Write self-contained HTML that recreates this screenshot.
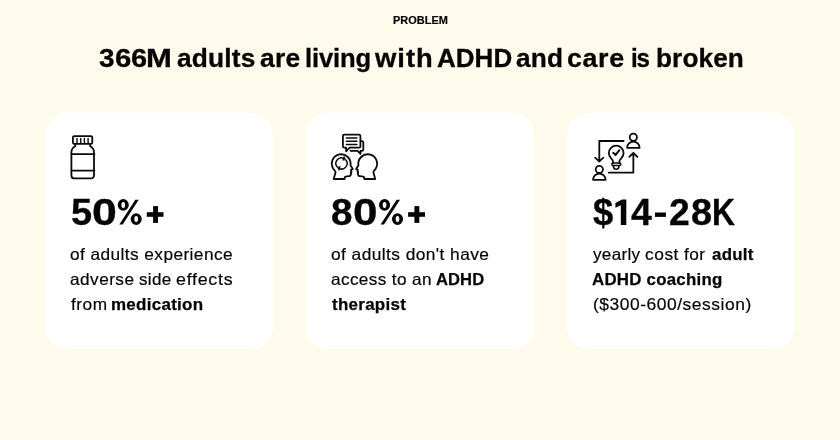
<!DOCTYPE html>
<html><head><meta charset="utf-8">
<style>
*{margin:0;padding:0;box-sizing:border-box}
html,body{width:840px;height:440px;overflow:hidden}
body{background:#fffbec;font-family:"Liberation Sans",sans-serif;color:#050505;position:relative}
.card{position:absolute;top:113px;width:228px;height:236px;background:#fff;border-radius:22px}
.c1{left:45px}.c2{left:306px}.c3{left:567px}
#t{will-change:transform}
#t span{position:absolute;white-space:pre;line-height:1;transform-origin:0 0}
</style></head><body>
<div class="card c1"></div><div class="card c2"></div><div class="card c3"></div>
<div id="t">
<span style="left:392.85px;top:15.07px;font-size:10.9px;letter-spacing:0.033px;transform:scaleX(1.0038);font-weight:bold;-webkit-text-stroke:0.2px #050505;">PROBLEM</span>
<span style="left:98.99px;top:44.69px;font-size:26px;transform:scaleX(1.0745);font-weight:bold;-webkit-text-stroke:0.3px #050505;">3</span>
<span style="left:114.77px;top:44.69px;font-size:26px;transform:scaleX(1.1280);font-weight:bold;-webkit-text-stroke:0.3px #050505;">6</span>
<span style="left:131.39px;top:44.69px;font-size:26px;transform:scaleX(1.1120);font-weight:bold;-webkit-text-stroke:0.3px #050505;">6</span>
<span style="left:145.81px;top:44.69px;font-size:26px;transform:scaleX(1.1945);font-weight:bold;-webkit-text-stroke:0.3px #050505;">M</span>
<span style="left:176.74px;top:44.69px;font-size:26px;letter-spacing:0.185px;transform:scaleX(1.0122);font-weight:bold;-webkit-text-stroke:0.3px #050505;">adults</span>
<span style="left:260.04px;top:44.69px;font-size:26px;letter-spacing:0.312px;transform:scaleX(1.0165);font-weight:bold;-webkit-text-stroke:0.3px #050505;">are</span>
<span style="left:305.47px;top:44.69px;font-size:26px;letter-spacing:-0.170px;transform:scaleX(0.9866);font-weight:bold;-webkit-text-stroke:0.3px #050505;">living</span>
<span style="left:374.80px;top:44.69px;font-size:26px;letter-spacing:0.950px;transform:scaleX(1.0534);font-weight:bold;-webkit-text-stroke:0.3px #050505;">with</span>
<span style="left:436.95px;top:44.69px;font-size:26px;letter-spacing:0.042px;font-weight:bold;-webkit-text-stroke:0.3px #050505;">ADHD</span>
<span style="left:516.24px;top:44.69px;font-size:26px;letter-spacing:0.188px;transform:scaleX(1.0085);font-weight:bold;-webkit-text-stroke:0.3px #050505;">and</span>
<span style="left:567.47px;top:44.69px;font-size:26px;letter-spacing:0.583px;transform:scaleX(1.0329);font-weight:bold;-webkit-text-stroke:0.3px #050505;">care</span>
<span style="left:630.57px;top:44.69px;font-size:26px;letter-spacing:-1.250px;transform:scaleX(0.9296);font-weight:bold;-webkit-text-stroke:0.3px #050505;">is</span>
<span style="left:655.94px;top:44.69px;font-size:26px;letter-spacing:0.115px;transform:scaleX(1.0069);font-weight:bold;-webkit-text-stroke:0.3px #050505;">broken</span>
<span style="left:71.18px;top:194.52px;font-size:36px;transform:scaleX(1.0535);font-weight:bold;-webkit-text-stroke:0.3px #050505;">5</span>
<span style="left:91.74px;top:194.52px;font-size:36px;transform:scaleX(1.2412);font-weight:bold;-webkit-text-stroke:0.3px #050505;">0</span>
<span style="left:331.46px;top:194.52px;font-size:36px;transform:scaleX(1.0704);font-weight:bold;-webkit-text-stroke:0.3px #050505;">8</span>
<span style="left:352.96px;top:194.52px;font-size:36px;transform:scaleX(1.2235);font-weight:bold;-webkit-text-stroke:0.3px #050505;">0</span>
<span style="left:593.09px;top:194.52px;font-size:36px;transform:scaleX(1.0105);font-weight:bold;-webkit-text-stroke:0.3px #050505;">&#36;</span>
<span style="left:630.78px;top:194.52px;font-size:36px;transform:scaleX(1.0390);font-weight:bold;-webkit-text-stroke:0.3px #050505;">4</span>
<span style="left:668.60px;top:194.52px;font-size:36px;transform:scaleX(1.0377);font-weight:bold;-webkit-text-stroke:0.3px #050505;">2</span>
<span style="left:690.58px;top:194.52px;font-size:36px;transform:scaleX(1.0535);font-weight:bold;-webkit-text-stroke:0.3px #050505;">8</span>
<span style="left:711.89px;top:194.52px;font-size:36px;transform:scaleX(0.8826);font-weight:bold;-webkit-text-stroke:0.3px #050505;">K</span>
<span style="left:70.11px;top:245.73px;font-size:16.5px;letter-spacing:0.391px;transform:scaleX(1.0483);-webkit-text-stroke:0.18px #050505;">of adults experience</span>
<span style="left:70.12px;top:270.83px;font-size:16.5px;letter-spacing:0.438px;transform:scaleX(1.0438);-webkit-text-stroke:0.18px #050505;">adverse</span>
<span style="left:139.48px;top:270.83px;font-size:16.5px;letter-spacing:0.333px;transform:scaleX(1.0333);-webkit-text-stroke:0.18px #050505;">side</span>
<span style="left:176.19px;top:270.83px;font-size:16.5px;letter-spacing:0.683px;transform:scaleX(1.0802);-webkit-text-stroke:0.18px #050505;">effects</span>
<span style="left:71.24px;top:296.03px;font-size:16.5px;letter-spacing:0.492px;transform:scaleX(1.0444);-webkit-text-stroke:0.18px #050505;">from</span>
<span style="left:111.47px;top:296.03px;font-size:16.5px;letter-spacing:0.272px;transform:scaleX(1.0280);font-weight:bold;-webkit-text-stroke:0.25px #050505;">medication</span>
<span style="left:331.01px;top:245.73px;font-size:16.5px;letter-spacing:0.403px;transform:scaleX(1.0515);-webkit-text-stroke:0.18px #050505;">of adults don't have</span>
<span style="left:331.02px;top:270.83px;font-size:16.5px;letter-spacing:0.357px;transform:scaleX(1.0415);-webkit-text-stroke:0.18px #050505;">access to an</span>
<span style="left:436.30px;top:270.83px;font-size:16.5px;letter-spacing:0.083px;transform:scaleX(1.0053);font-weight:bold;-webkit-text-stroke:0.25px #050505;">ADHD</span>
<span style="left:331.64px;top:296.03px;font-size:16.5px;letter-spacing:0.259px;transform:scaleX(1.0291);font-weight:bold;-webkit-text-stroke:0.25px #050505;">therapist</span>
<span style="left:592.90px;top:245.73px;font-size:16.5px;letter-spacing:0.310px;transform:scaleX(1.0340);-webkit-text-stroke:0.18px #050505;">yearly</span>
<span style="left:644.51px;top:245.73px;font-size:16.5px;letter-spacing:0.517px;transform:scaleX(1.0499);-webkit-text-stroke:0.18px #050505;">cost</span>
<span style="left:684.44px;top:245.73px;font-size:16.5px;letter-spacing:0.438px;transform:scaleX(1.0446);-webkit-text-stroke:0.18px #050505;">for</span>
<span style="left:711.69px;top:245.73px;font-size:16.5px;letter-spacing:0.231px;transform:scaleX(1.0233);font-weight:bold;-webkit-text-stroke:0.25px #050505;">adult</span>
<span style="left:592.39px;top:270.83px;font-size:16.5px;letter-spacing:0.229px;transform:scaleX(1.0219);font-weight:bold;-webkit-text-stroke:0.25px #050505;">ADHD coaching</span>
<span style="left:592.94px;top:296.03px;font-size:16.5px;letter-spacing:0.496px;transform:scaleX(1.0571);-webkit-text-stroke:0.18px #050505;">(&#36;300-600/session)</span>
</div>
<svg id="icons" style="position:absolute;left:0;top:0" width="840" height="440" viewBox="0 0 840 440" fill="none" stroke="#0a0a0a" stroke-width="1.8" stroke-linejoin="round" stroke-linecap="round">
<g>
<rect x="72.9" y="136.1" width="19.4" height="7.7" rx="1.4"/>
<path d="M77 138.4v4.4M80.7 138.4v4.4M84.4 138.4v4.4M88.1 138.4v4.4" stroke-width="1.4"/>
<path d="M75.2 143.7v2.6c-2.7 1.5-3.8 3.3-3.8 6.2v22.9a3 3 0 0 0 3 3h16.6a3 3 0 0 0 3-3v-22.9c0-2.9-1.1-4.7-3.8-6.2v-2.6"/>
<path d="M71.4 154.1h23.2M71.4 170.6h23.2" stroke-width="1.6"/>
</g>
<g>
<path d="M360.4 141.6v-5.5a1.4 1.4 0 0 0-1.4-1.4h-14.7a1.4 1.4 0 0 0-1.4 1.4v10.2a1.4 1.4 0 0 0 1.4 1.4h1.8v3.6l3.6-3.6h9.3a1.4 1.4 0 0 0 1.4-1.4z"/>
<path d="M346.4 138.1h10.5M346.4 141.3h10.5M346.4 144.5h10.5" stroke-width="1.5"/>
<path d="M360.6 141.1h1.3a1.4 1.4 0 0 1 1.4 1.4v6.9a1.4 1.4 0 0 1-1.4 1.4h-1.4v3l-3-3h-7"/>
<path d="M333.23 168.68A9.4 9.4 0 1 1 350.46 165.33L352.8 168.9L351 169.9L351.5 171.3L350.7 172.2L351.2 173.4L350.5 175.4Q350.2 176.2 349.2 176.2L346.6 176.4Q344.7 176.5 344.6 178.2L344.6 179H333.7L335.5 172.6Q335.6 171.6 334.9 170.9Z"/>
<path transform="translate(708.9 0) scale(-1 1)" d="M333.23 168.68A9.4 9.4 0 1 1 350.46 165.33L352.8 168.9L351 169.9L351.5 171.3L350.7 172.2L351.2 173.4L350.5 175.4Q350.2 176.2 349.2 176.2L346.6 176.4Q344.7 176.5 344.6 178.2L344.6 179H333.7L335.5 172.6Q335.6 171.6 334.9 170.9Z"/>
<path d="M337.09 166.85A5.6 5.6 0 0 1 343.78 158.28M345.91 159.95A5.6 5.6 0 0 1 339.22 168.52" stroke-width="1.5"/>
<path d="M345.53 159.51L344.1 156.26L342.73 160.02Z" fill="#0a0a0a" stroke-width="0.6"/>
<path d="M337.47 167.29L338.9 170.54L340.27 166.78Z" fill="#0a0a0a" stroke-width="0.6"/>
</g>
<g>
<circle cx="633.35" cy="137.3" r="3.6"/><path d="M627.1 147.8h12.5a6.25 6.25 0 0 0-12.5 0z"/>
<circle cx="599.3" cy="169.4" r="3.6"/><path d="M593.05 179.8h12.5a6.25 6.25 0 0 0-12.5 0z"/>
<path d="M623.6 141h-24.3v20.2M595.2 157.7l4.1 3.8 4.1-3.8"/>
<path d="M608.8 172.7h24.55v-19M629.3 156.8l4.05-3.8 4.05 3.8"/>
<path d="M613.1 163v-1.4c-.3-1.3-1.1-2.3-2.15-3.4a7.35 7.35 0 1 1 10.5 0c-1.05 1.1-1.85 2.1-2.15 3.4v1.4"/>
<rect x="611.8" y="163.0" width="9" height="2.4" rx="1.2" stroke-width="1.5"/>
<path d="M613.4 165.7c0 2.1 1.1 3.5 2.8 3.5s2.8-1.4 2.8-3.5" stroke-width="1.6"/>
<path d="M613.2 152.8l2.5 2.1 3.6-4.7" stroke-width="1.9"/>
</g>
<g fill="#050505" stroke="none">
<rect x="146.8" y="212.2" width="16.7" height="4.6"/><rect x="153.1" y="206.1" width="4.9" height="16.8"/>
<rect x="408.1" y="212.2" width="16.9" height="4.6"/><rect x="414.4" y="206.1" width="4.9" height="16.8"/>
<path fill-rule="evenodd" d="M117.70 204.95a5.55 5.85 0 1 0 11.1 0a5.55 5.85 0 1 0 -11.1 0zM121.40 204.95a1.85 3.05 0 1 1 3.7 0a1.85 3.05 0 1 1 -3.7 0zM130.65 219.05a5.55 5.85 0 1 0 11.1 0a5.55 5.85 0 1 0 -11.1 0zM134.35 219.05a1.85 3.05 0 1 1 3.7 0a1.85 3.05 0 1 1 -3.7 0zM135.30 199.7h3.4L122.70 224.4h-3.4z"/>
<path fill-rule="evenodd" d="M379.00 204.95a5.55 5.85 0 1 0 11.1 0a5.55 5.85 0 1 0 -11.1 0zM382.70 204.95a1.85 3.05 0 1 1 3.7 0a1.85 3.05 0 1 1 -3.7 0zM391.95 219.05a5.55 5.85 0 1 0 11.1 0a5.55 5.85 0 1 0 -11.1 0zM395.65 219.05a1.85 3.05 0 1 1 3.7 0a1.85 3.05 0 1 1 -3.7 0zM396.60 199.7h3.4L384.00 224.4h-3.4z"/>
<rect x="655.0" y="212.5" width="10.9" height="4.4"/>
<path d="M626.3 199.4V224.9H620.8V205.3L615.4 207.7V203.1L622 199.4Z"/>
</g>
</svg>
</body></html>
